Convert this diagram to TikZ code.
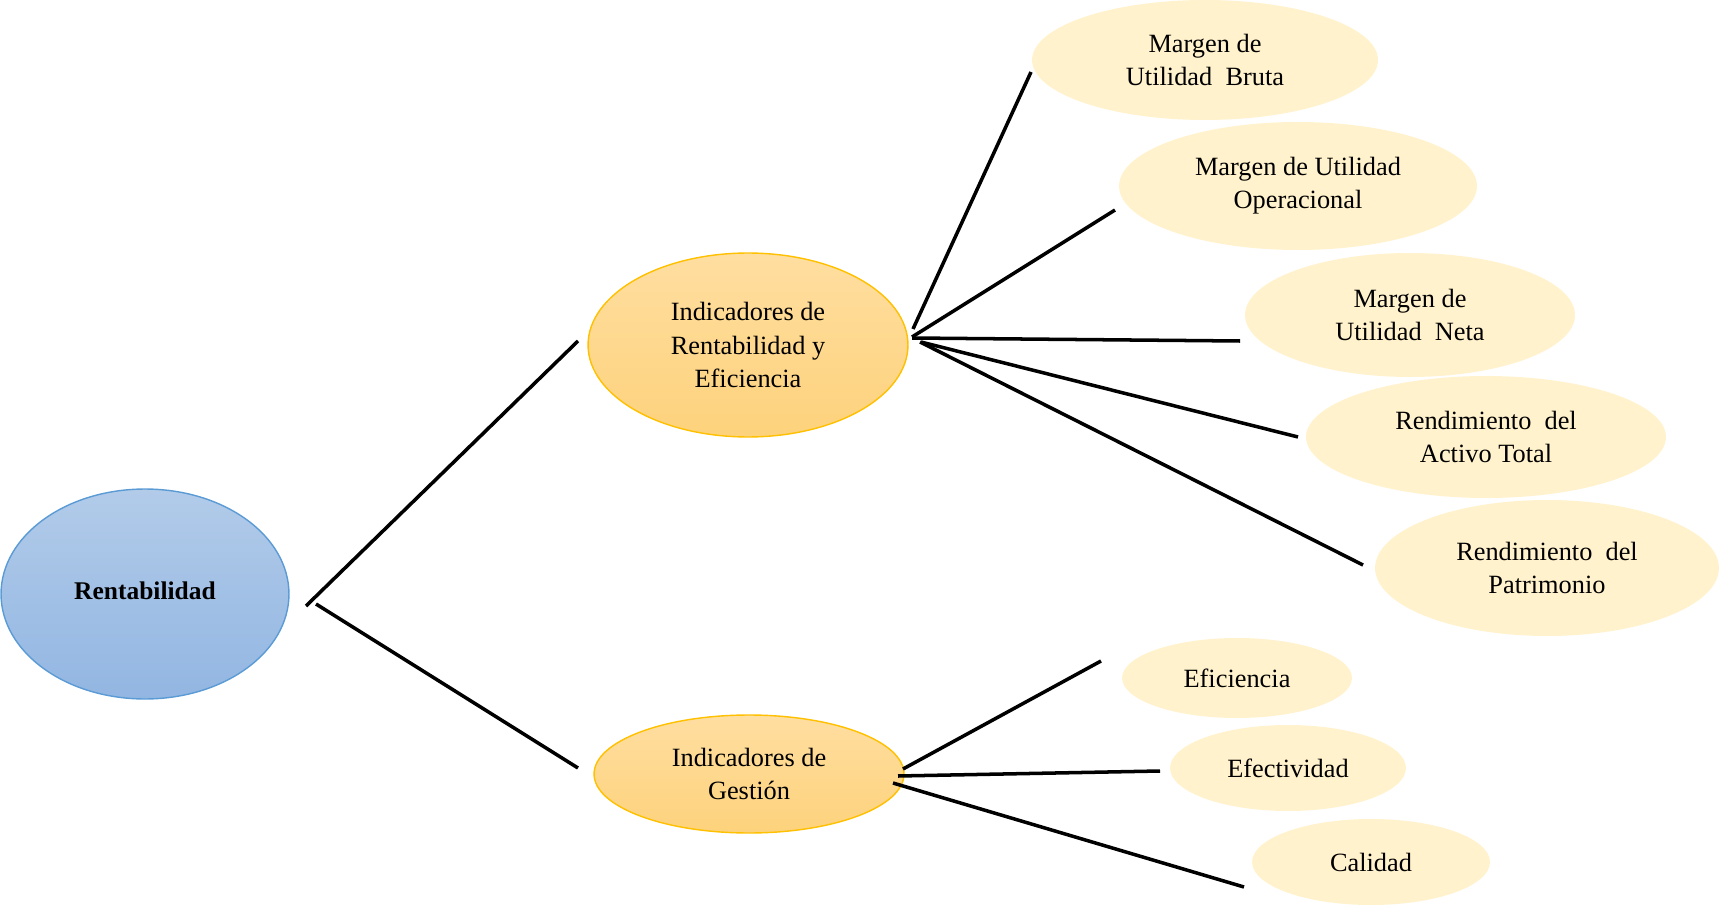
\documentclass[tikz,border=0pt]{standalone}
\usepackage{fontspec}
\setmainfont{Liberation Serif}
\usepackage{xcolor}
\usetikzlibrary{shapes.geometric}

\definecolor{rootline}{HTML}{5B9BD5}
\definecolor{roottop}{HTML}{B2CBE9}
\definecolor{rootbot}{HTML}{92B6E2}
\definecolor{midline}{HTML}{FFC000}
\definecolor{midtop}{HTML}{FFDEA0}
\definecolor{midbot}{HTML}{FDD27C}
\definecolor{leaffill}{HTML}{FFF2CC}

\begin{document}
\begin{tikzpicture}[
		x=0.02cm, y=0.02cm,
		rootnode/.style={
			ellipse,
			draw=rootline,
			line width=0.8pt,
			top color=roottop,
			bottom color=rootbot,
			inner sep=0pt,
			font=\fontsize{14.5}{18}\selectfont\bfseries
		},
		midnode/.style={
			ellipse,
			draw=midline,
			line width=0.8pt,
			top color=midtop,
			bottom color=midbot,
			inner sep=0pt,
			align=center,
			font=\fontsize{15}{18.8}\selectfont
		},
		leafnode/.style={
			ellipse,
			fill=leaffill,
			inner sep=0pt,
			align=center,
			font=\fontsize{15}{18.8}\selectfont
		},
		link/.style={line width=2pt, line cap=butt}
		]
		
		\useasboundingbox (0,0) rectangle (1719,907);
		
		% Root
		\node[rootnode, minimum width=5.76cm, minimum height=4.2cm] (rent) at (145,313) {\raisebox{0.15cm}{Rentabilidad}};
		
		% Indicator groups
		\node[midnode, minimum width=6.4cm, minimum height=3.68cm] (ire) at (748,562) {
			Indicadores de\\
			Rentabilidad y\\
			Eficiencia
		};
		\node[midnode, minimum width=6.2cm, minimum height=2.36cm] (ige) at (749,133) {
			Indicadores de\\
			Gestión
		};
		
		% Profitability ratios
		\node[leafnode, minimum width=6.92cm, minimum height=2.4cm] (bruta) at (1205,847) {
			Margen de\\
			Utilidad \ Bruta
		};
		\node[leafnode, minimum width=7.16cm, minimum height=2.56cm] (oper) at (1298,721) {
			Margen de Utilidad\\
			Operacional
		};
		\node[leafnode, minimum width=6.6cm, minimum height=2.48cm] (neta) at (1410,592) {
			Margen de\\
			Utilidad \ Neta
		};
		\node[leafnode, minimum width=7.2cm, minimum height=2.44cm] (activo) at (1486,470) {
			Rendimiento \ del\\
			Activo Total
		};
		\node[leafnode, minimum width=6.88cm, minimum height=2.72cm] (patri) at (1547,339) {
			Rendimiento \ del\\
			Patrimonio
		};
		
		% Management ratios
		\node[leafnode, minimum width=4.6cm, minimum height=1.6cm] (efic) at (1237,229) {Eficiencia};
		\node[leafnode, minimum width=4.72cm, minimum height=1.72cm] (efec) at (1288,139) {Efectividad};
		\node[leafnode, minimum width=4.76cm, minimum height=1.72cm] (cal) at (1371,45) {Calidad};
		
		% Line ends
		\coordinate (rent-a) at (306,301);
		\coordinate (rent-b) at (316,303);
		\coordinate (ire-in) at (578,566);
		\coordinate (ige-in) at (578,139);
		\coordinate (ire-a) at (913,578);
		\coordinate (ire-b) at (912,570);
		\coordinate (ire-c) at (912,569);
		\coordinate (ire-d) at (921,565);
		\coordinate (ire-e) at (920,565);
		\coordinate (bruta-in) at (1031,835);
		\coordinate (oper-in) at (1115,697);
		\coordinate (neta-in) at (1240,566);
		\coordinate (activo-in) at (1298,470);
		\coordinate (patri-in) at (1363,342);
		\coordinate (ige-a) at (903,138);
		\coordinate (ige-b) at (898,131);
		\coordinate (ige-c) at (893,124);
		\coordinate (efic-in) at (1101,246);
		\coordinate (efec-in) at (1160,136);
		\coordinate (cal-in) at (1244,20);
		
		% Lines
		\draw[link] (rent-a) -- (ire-in);
		\draw[link] (rent-b) -- (ige-in);
		\draw[link] (ire-a) -- (bruta-in);
		\draw[link] (ire-b) -- (oper-in);
		\draw[link] (ire-c) -- (neta-in);
		\draw[link] (ire-d) -- (activo-in);
		\draw[link] (ire-e) -- (patri-in);
		\draw[link] (ige-a) -- (efic-in);
		\draw[link] (ige-b) -- (efec-in);
		\draw[link] (ige-c) -- (cal-in);
		
	\end{tikzpicture}
\end{document}
